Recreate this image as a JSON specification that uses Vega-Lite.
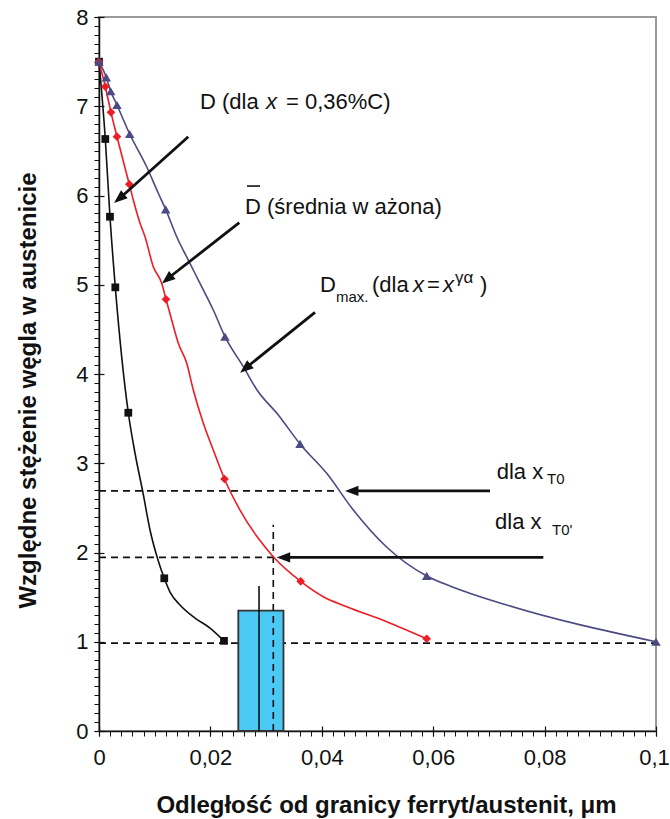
{
  "$schema": "https://vega.github.io/schema/vega-lite/v6.json",
  "width": 557,
  "height": 714,
  "autosize": {"type": "none"},
  "padding": {"left": 99, "top": 17, "right": 14, "bottom": 88},
  "background": "white",
  "config": {
    "view": {"stroke": "#9a9a9a", "strokeWidth": 2},
    "axis": {"grid": false},
    "font": "Liberation Sans"
  },
  "datasets": {
    "curves": [
      {"s": "D", "x": 0, "y": 7.5, "m": 1},
      {"s": "D", "x": 0.00113, "y": 6.633, "m": 1},
      {"s": "D", "x": 0.00197, "y": 5.762, "m": 1},
      {"s": "D", "x": 0.00293, "y": 4.971, "m": 1},
      {"s": "D", "x": 0.00526, "y": 3.566, "m": 1},
      {"s": "D", "x": 0.00646, "y": 3.115, "m": 0},
      {"s": "D", "x": 0.0079, "y": 2.667, "m": 0},
      {"s": "D", "x": 0.00916, "y": 2.252, "m": 0},
      {"s": "D", "x": 0.01059, "y": 1.916, "m": 0},
      {"s": "D", "x": 0.01172, "y": 1.711, "m": 1},
      {"s": "D", "x": 0.01275, "y": 1.557, "m": 0},
      {"s": "D", "x": 0.01454, "y": 1.412, "m": 0},
      {"s": "D", "x": 0.01724, "y": 1.266, "m": 0},
      {"s": "D", "x": 0.01993, "y": 1.154, "m": 0},
      {"s": "D", "x": 0.02244, "y": 1.01, "m": 1},
      {"s": "Dsr", "x": 0, "y": 7.5, "m": 1},
      {"s": "Dsr", "x": 0.00113, "y": 7.219, "m": 1},
      {"s": "Dsr", "x": 0.00215, "y": 6.932, "m": 1},
      {"s": "Dsr", "x": 0.00323, "y": 6.659, "m": 1},
      {"s": "Dsr", "x": 0.00544, "y": 6.126, "m": 1},
      {"s": "Dsr", "x": 0.00616, "y": 5.95, "m": 0},
      {"s": "Dsr", "x": 0.00736, "y": 5.692, "m": 0},
      {"s": "Dsr", "x": 0.00826, "y": 5.538, "m": 0},
      {"s": "Dsr", "x": 0.00975, "y": 5.202, "m": 0},
      {"s": "Dsr", "x": 0.01126, "y": 5.016, "m": 0},
      {"s": "Dsr", "x": 0.01203, "y": 4.837, "m": 1},
      {"s": "Dsr", "x": 0.01305, "y": 4.605, "m": 0},
      {"s": "Dsr", "x": 0.01424, "y": 4.344, "m": 0},
      {"s": "Dsr", "x": 0.01575, "y": 4.12, "m": 0},
      {"s": "Dsr", "x": 0.01693, "y": 3.821, "m": 0},
      {"s": "Dsr", "x": 0.01873, "y": 3.448, "m": 0},
      {"s": "Dsr", "x": 0.02052, "y": 3.148, "m": 0},
      {"s": "Dsr", "x": 0.02253, "y": 2.824, "m": 1},
      {"s": "Dsr", "x": 0.02531, "y": 2.476, "m": 0},
      {"s": "Dsr", "x": 0.0286, "y": 2.159, "m": 0},
      {"s": "Dsr", "x": 0.03129, "y": 1.953, "m": 0},
      {"s": "Dsr", "x": 0.03621, "y": 1.677, "m": 1},
      {"s": "Dsr", "x": 0.04027, "y": 1.505, "m": 0},
      {"s": "Dsr", "x": 0.04447, "y": 1.393, "m": 0},
      {"s": "Dsr", "x": 0.05165, "y": 1.225, "m": 0},
      {"s": "Dsr", "x": 0.05883, "y": 1.034, "m": 1},
      {"s": "Dmax", "x": 0, "y": 7.5, "m": 1},
      {"s": "Dmax", "x": 0.00131, "y": 7.324, "m": 1},
      {"s": "Dmax", "x": 0.0021, "y": 7.168, "m": 1},
      {"s": "Dmax", "x": 0.00323, "y": 7.014, "m": 1},
      {"s": "Dmax", "x": 0.00551, "y": 6.689, "m": 1},
      {"s": "Dmax", "x": 0.00856, "y": 6.322, "m": 0},
      {"s": "Dmax", "x": 0.01065, "y": 6.025, "m": 0},
      {"s": "Dmax", "x": 0.01197, "y": 5.845, "m": 1},
      {"s": "Dmax", "x": 0.01395, "y": 5.538, "m": 0},
      {"s": "Dmax", "x": 0.01603, "y": 5.277, "m": 0},
      {"s": "Dmax", "x": 0.01813, "y": 5.016, "m": 0},
      {"s": "Dmax", "x": 0.02052, "y": 4.717, "m": 0},
      {"s": "Dmax", "x": 0.02262, "y": 4.418, "m": 1},
      {"s": "Dmax", "x": 0.02591, "y": 4.082, "m": 0},
      {"s": "Dmax", "x": 0.02837, "y": 3.821, "m": 0},
      {"s": "Dmax", "x": 0.03219, "y": 3.541, "m": 0},
      {"s": "Dmax", "x": 0.03609, "y": 3.216, "m": 1},
      {"s": "Dmax", "x": 0.04088, "y": 2.887, "m": 0},
      {"s": "Dmax", "x": 0.04566, "y": 2.476, "m": 0},
      {"s": "Dmax", "x": 0.05153, "y": 2.067, "m": 0},
      {"s": "Dmax", "x": 0.05883, "y": 1.737, "m": 1},
      {"s": "Dmax", "x": 0.06332, "y": 1.617, "m": 0},
      {"s": "Dmax", "x": 0.0732, "y": 1.412, "m": 0},
      {"s": "Dmax", "x": 0.1, "y": 1.0, "m": 1}
    ],
    "segments": [
      {"kind": "hdash", "x": 0, "y": 2.69, "x2": 0.04296, "y2": 2.69},
      {"kind": "hdash", "x": 0, "y": 1.945, "x2": 0.03129, "y2": 1.945},
      {"kind": "hdash", "x": 0, "y": 0.985, "x2": 0.1, "y2": 0.985},
      {"kind": "vdash", "x": 0.03129, "y": 0, "x2": 0.03129, "y2": 2.31},
      {"kind": "solid", "x": 0.02873, "y": 0, "x2": 0.02873, "y2": 1.625},
      {"kind": "solid", "x": 0.02657, "y": 6.106, "x2": 0.02891, "y2": 6.106}
    ],
    "box": [
      {"x": 0.02501, "y": 0, "x2": 0.03312, "y2": 1.348}
    ],
    "arrows": [
      {"kind": "diag", "x": 0.00438, "y": 6.005, "x2": 0.01603, "y2": 6.659},
      {"kind": "diag", "x": 0.01299, "y": 5.101, "x2": 0.02519, "y2": 5.695},
      {"kind": "diag", "x": 0.02702, "y": 4.101, "x2": 0.03878, "y2": 4.691},
      {"kind": "horiz", "x": 0.04636, "y": 2.69, "x2": 0.0702, "y2": 2.69},
      {"kind": "horiz", "x": 0.0341, "y": 1.945, "x2": 0.07977, "y2": 1.945}
    ],
    "labels": [
      {"text": "D (dla ", "x": 0.01813, "y": 7.051, "role": "main"},
      {"text": "x", "x": 0.02998, "y": 7.051, "role": "italic"},
      {"text": "= 0,36%C)", "x": 0.03357, "y": 7.051, "role": "main"},
      {"text": "D (średnia w ażona)", "x": 0.02621, "y": 5.875, "role": "main"},
      {"text": "D", "x": 0.03968, "y": 5.0, "role": "main"},
      {"text": "max.", "x": 0.04255, "y": 4.863, "role": "small"},
      {"text": "(dla ", "x": 0.04901, "y": 5.0, "role": "main"},
      {"text": "x", "x": 0.05637, "y": 5.0, "role": "italic"},
      {"text": "=", "x": 0.05889, "y": 5.0, "role": "main"},
      {"text": "x", "x": 0.06176, "y": 5.0, "role": "italic"},
      {"text": "γα", "x": 0.06391, "y": 5.072, "role": "sup"},
      {"text": ")", "x": 0.0684, "y": 5.0, "role": "main"},
      {"text": "dla x", "x": 0.0714, "y": 2.905, "role": "main"},
      {"text": "T0", "x": 0.08043, "y": 2.82, "role": "small"},
      {"text": "dla x", "x": 0.0711, "y": 2.345, "role": "main"},
      {"text": "T0'", "x": 0.08133, "y": 2.252, "role": "small"}
    ]
  },
  "layer": [
    {
      "encoding": {
        "x": {
          "field": "x",
          "type": "quantitative",
          "scale": {"domain": [0, 0.1], "nice": false, "zero": false},
          "axis": {
            "orient": "bottom",
            "values": [0,0.002,0.004,0.006,0.008,0.01,0.012,0.014,0.016,0.018,0.02,0.022,0.024,0.026,0.028,0.03,0.032,0.034,0.036,0.038,0.04,0.042,0.044,0.046,0.048,0.05,0.052,0.054,0.056,0.058,0.06,0.062,0.064,0.066,0.068,0.07,0.072,0.074,0.076,0.078,0.08,0.082,0.084,0.086,0.088,0.09,0.092,0.094,0.096,0.098,0.1],
            "labelExpr": "abs(datum.value*50 - round(datum.value*50)) < 0.01 ? replace(format(datum.value, '~g'), '.', ',') : ''",
            "tickSize": 5,
            "tickColor": "#111111",
            "tickWidth": 1,
            "domainColor": "#111111",
            "domainWidth": 1.5,
            "labelFont": "Liberation Sans",
            "labelFontSize": 22,
            "labelColor": "#111111",
            "labelPadding": 11,
            "labelOffset": {"condition": {"test": "datum.value > 0.099", "value": -2}, "value": 0},
            "labelFlush": false,
            "labelOverlap": false,
            "labelBound": false,
            "title": "Odległość od granicy ferryt/austenit, μm",
            "titleFont": "Liberation Sans",
            "titleFontSize": 24,
            "titleFontWeight": "bold",
            "titleColor": "#111111",
            "titleX": 287,
            "titleY": 74,
            "titleBaseline": "middle",
            "titleAlign": "center"
          }
        },
        "y": {
          "field": "y",
          "type": "quantitative",
          "scale": {"domain": [0, 8], "nice": false, "zero": false},
          "axis": {
            "orient": "left",
            "values": [0,0.1,0.2,0.3,0.4,0.5,0.6,0.7,0.8,0.9,1,1.1,1.2,1.3,1.4,1.5,1.6,1.7,1.8,1.9,2,2.1,2.2,2.3,2.4,2.5,2.6,2.7,2.8,2.9,3,3.1,3.2,3.3,3.4,3.5,3.6,3.7,3.8,3.9,4,4.1,4.2,4.3,4.4,4.5,4.6,4.7,4.8,4.9,5,5.1,5.2,5.3,5.4,5.5,5.6,5.7,5.8,5.9,6,6.1,6.2,6.3,6.4,6.5,6.6,6.7,6.8,6.9,7,7.1,7.2,7.3,7.4,7.5,7.6,7.7,7.8,7.9,8],
            "labelExpr": "abs(datum.value - round(datum.value)) < 0.01 ? format(datum.value, 'd') : ''",
            "tickSize": 5,
            "tickColor": "#111111",
            "tickWidth": 1,
            "domainColor": "#111111",
            "domainWidth": 1.5,
            "labelFont": "Liberation Sans",
            "labelFontSize": 22,
            "labelColor": "#111111",
            "labelPadding": 6,
            "labelFlush": false,
            "labelOverlap": false,
            "labelBound": false,
            "title": "Względne stężenie węgla w austenicie",
            "titleFont": "Liberation Sans",
            "titleFontSize": 24,
            "titleFontWeight": "bold",
            "titleColor": "#111111",
            "titleAngle": 270,
            "titleX": -71,
            "titleY": 373,
            "titleBaseline": "middle",
            "titleAlign": "center"
          }
        }
      },
      "layer": [
        {
          "data": {"name": "segments"},
          "transform": [{"filter": "datum.kind == 'hdash'"}],
          "mark": {"type": "rule", "color": "#111111", "strokeWidth": 1.6, "strokeDash": [7, 5]},
          "encoding": {"x2": {"field": "x2"}, "y2": {"field": "y2"}}
        },
        {
          "data": {"name": "box"},
          "mark": {"type": "rect", "fill": "#4CC8F4", "stroke": "#333333", "strokeWidth": 1.8},
          "encoding": {"x2": {"field": "x2"}, "y2": {"field": "y2"}}
        },
        {
          "data": {"name": "segments"},
          "transform": [{"filter": "datum.kind == 'vdash'"}],
          "mark": {"type": "rule", "color": "#111111", "strokeWidth": 1.6, "strokeDash": [7, 5]},
          "encoding": {"x2": {"field": "x2"}, "y2": {"field": "y2"}}
        },
        {
          "data": {"name": "segments"},
          "transform": [{"filter": "datum.kind == 'solid'"}],
          "mark": {"type": "rule", "color": "#111111", "strokeWidth": 1.6},
          "encoding": {"x2": {"field": "x2"}, "y2": {"field": "y2"}}
        },
        {
          "data": {"name": "curves"},
          "mark": {"type": "line", "strokeWidth": 1.6, "interpolate": "monotone"},
          "encoding": {
            "detail": {"field": "s"},
            "color": {"field": "s", "type": "nominal", "scale": {"domain": ["D", "Dsr", "Dmax"], "range": ["#111111", "#EE1C25", "#4B4A82"]}, "legend": null}
          }
        },
        {
          "data": {"name": "curves"},
          "transform": [{"filter": "datum.m == 1"}],
          "mark": {"type": "point", "filled": true, "opacity": 1},
          "encoding": {
            "color": {"field": "s", "type": "nominal", "scale": {"domain": ["D", "Dsr", "Dmax"], "range": ["#111111", "#EE1C25", "#4B4A82"]}, "legend": null},
            "shape": {"field": "s", "type": "nominal", "scale": {"domain": ["D", "Dsr", "Dmax"], "range": ["square", "diamond", "triangle-up"]}, "legend": null},
            "size": {"field": "s", "type": "nominal", "scale": {"domain": ["D", "Dsr", "Dmax"], "range": [60, 90, 115]}, "legend": null}
          }
        },
        {
          "data": {"name": "arrows"},
          "mark": {"type": "rule", "color": "#111111", "strokeWidth": 2.8},
          "encoding": {"x2": {"field": "x2"}, "y2": {"field": "y2"}}
        },
        {
          "data": {"name": "arrows"},
          "transform": [{"filter": "datum.kind == 'diag'"}],
          "mark": {"type": "point", "shape": "M0,-1L-0.42,0.1L0.42,0.1Z", "filled": true, "color": "#111111", "opacity": 1, "size": 600, "angle": 230},
          "encoding": {}
        },
        {
          "data": {"name": "arrows"},
          "transform": [{"filter": "datum.kind == 'horiz'"}],
          "mark": {"type": "point", "shape": "M0,-1L-0.42,0.1L0.42,0.1Z", "filled": true, "color": "#111111", "opacity": 1, "size": 600, "angle": 270},
          "encoding": {}
        },
        {
          "data": {"name": "labels"},
          "transform": [{"filter": "datum.role == 'main'"}],
          "mark": {"type": "text", "align": "left", "baseline": "middle", "font": "Liberation Sans", "fontSize": 22, "color": "#111111"},
          "encoding": {"text": {"field": "text"}}
        },
        {
          "data": {"name": "labels"},
          "transform": [{"filter": "datum.role == 'italic'"}],
          "mark": {"type": "text", "align": "left", "baseline": "middle", "font": "Liberation Sans", "fontSize": 22, "fontStyle": "italic", "color": "#111111"},
          "encoding": {"text": {"field": "text"}}
        },
        {
          "data": {"name": "labels"},
          "transform": [{"filter": "datum.role == 'small'"}],
          "mark": {"type": "text", "align": "left", "baseline": "middle", "font": "Liberation Sans", "fontSize": 15, "color": "#111111"},
          "encoding": {"text": {"field": "text"}}
        },
        {
          "data": {"name": "labels"},
          "transform": [{"filter": "datum.role == 'sup'"}],
          "mark": {"type": "text", "align": "left", "baseline": "middle", "font": "Liberation Sans", "fontSize": 17, "color": "#111111"},
          "encoding": {"text": {"field": "text"}}
        }
      ]
    },
    {
      "data": {"name": "box"},
      "mark": {"type": "rule", "opacity": 0},
      "encoding": {
        "x": {
          "field": "x",
          "type": "quantitative",
          "scale": {"domain": [0, 0.1], "nice": false, "zero": false},
          "axis": {"orient": "bottom", "values": [0, 0.02, 0.04, 0.06, 0.08, 0.1], "offset": -5, "tickSize": 10, "tickColor": "#111111", "tickWidth": 1.2, "domain": false, "labels": false, "title": null, "grid": false}
        },
        "y": {
          "field": "y",
          "type": "quantitative",
          "scale": {"domain": [0, 8], "nice": false, "zero": false},
          "axis": {"orient": "left", "values": [0, 1, 2, 3, 4, 5, 6, 7, 8], "offset": -5, "tickSize": 10, "tickColor": "#111111", "tickWidth": 1.2, "domain": false, "labels": false, "title": null, "grid": false}
        }
      }
    }
  ],
  "resolve": {"scale": {"x": "independent", "y": "independent"}}
}
